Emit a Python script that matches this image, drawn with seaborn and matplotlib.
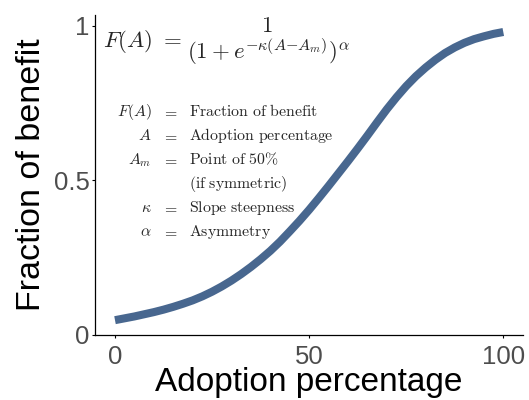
import matplotlib
matplotlib.use("Agg")
import matplotlib.pyplot as plt
import pandas as pd
import seaborn as sns

# Benefit curve sampled every 2.5 percentage points
adoption_pct = [0, 2.5, 5, 7.5, 10, 12.5, 15, 17.5, 20, 22.5, 25, 27.5, 30, 32.5, 35, 37.5,
                40, 42.5, 45, 47.5, 50, 52.5, 55, 57.5, 60, 62.5, 65, 67.5, 70, 72.5, 75,
                77.5, 80, 82.5, 85, 87.5, 90, 92.5, 95, 97.5, 100]
benefit_frac = [0.048, 0.054, 0.060, 0.067, 0.074, 0.082, 0.091, 0.101, 0.112, 0.125, 0.140,
                0.157, 0.176, 0.197, 0.220, 0.245, 0.272, 0.302, 0.335, 0.369, 0.405, 0.443,
                0.482, 0.522, 0.562, 0.603, 0.645, 0.688, 0.730, 0.769, 0.805, 0.837, 0.865,
                0.890, 0.912, 0.930, 0.945, 0.957, 0.966, 0.974, 0.980]

x_ticks = [0, 50, 100]
x_tick_labels = ["0", "50", "100"]
y_ticks = [0, 0.5, 1]
y_tick_labels = ["0", "0.5", "1"]

legend_symbols = [r"$F(A)$", r"$A$", r"$A_m$", "", r"$\kappa$", r"$\alpha$"]
legend_descriptions = ["Fraction of benefit", "Adoption percentage", "Point of 50%",
                       "(if symmetric)", "Slope steepness", "Asymmetry"]

formula_lhs = r"$F(A)\ =$"
formula_num = r"$1$"
formula_den = r"$(1+e^{-\kappa(A{-}A_m)})^{\alpha}$"

sns.set_theme(style="ticks")
plt.rcParams["font.family"] = ["Liberation Sans", "DejaVu Sans"]
plt.rcParams["mathtext.fontset"] = "cm"

W, H = 529, 400
fig = plt.figure(figsize=(W / 100, H / 100), dpi=100)
ax = fig.add_axes([95 / W, 65 / H, 427.7 / W, 320 / H])

df = pd.DataFrame({"adoption": adoption_pct, "benefit": benefit_frac})
sns.lineplot(data=df, x="adoption", y="benefit", ax=ax, color="#48678f",
             linewidth=5.8, solid_capstyle="butt", solid_joinstyle="round")

ax.set_xlim(-5.15, 105)
ax.set_ylim(0, 1.035)
ax.set_xticks(x_ticks, x_tick_labels)
ax.set_yticks(y_ticks, y_tick_labels)
ax.tick_params(axis="both", labelsize=18.5, labelcolor="#4d4d4d", color="black",
               length=2.5, width=0.8, direction="out")
ax.tick_params(axis="x", pad=4.5)
ax.tick_params(axis="y", pad=1.5)
for side in ("left", "bottom"):
    ax.spines[side].set_color("black")
    ax.spines[side].set_linewidth(0.9)
sns.despine(ax=ax)

ax.set_xlabel("Adoption percentage", fontsize=24, color="black", labelpad=-1.5)
ax.set_ylabel("Fraction of benefit", fontsize=24.5, color="black", labelpad=5)


def fpos(x, y):
    return x / W, 1 - y / H


# Model equation: left-hand side, numerator and denominator
eq_size = 16.5
fig.text(*fpos(102.7, 41.7), formula_lhs, fontsize=eq_size, ha="left", va="center")
fig.text(*fpos(266.7, 25.0), formula_num, fontsize=eq_size, ha="center", va="center")
fig.text(*fpos(186.7, 51.5), formula_den, fontsize=eq_size, ha="left", va="center")

# Variable definitions table
baselines = [116, 140, 164, 188, 212, 236]
for sym, desc, yb in zip(legend_symbols, legend_descriptions, baselines):
    desc_math = r"$\mathrm{" + desc.replace(" ", r"\ ").replace("%", r"\%") + "}$"
    if sym:
        fig.text(*fpos(151.7, yb), sym, fontsize=11.4, ha="right", va="baseline")
        fig.text(*fpos(170, yb), r"$=$", fontsize=11.4, ha="center", va="baseline")
    fig.text(*fpos(189, yb), desc_math, fontsize=11.4, ha="left", va="baseline")

fig.savefig("out.png", dpi=100, facecolor="white")
